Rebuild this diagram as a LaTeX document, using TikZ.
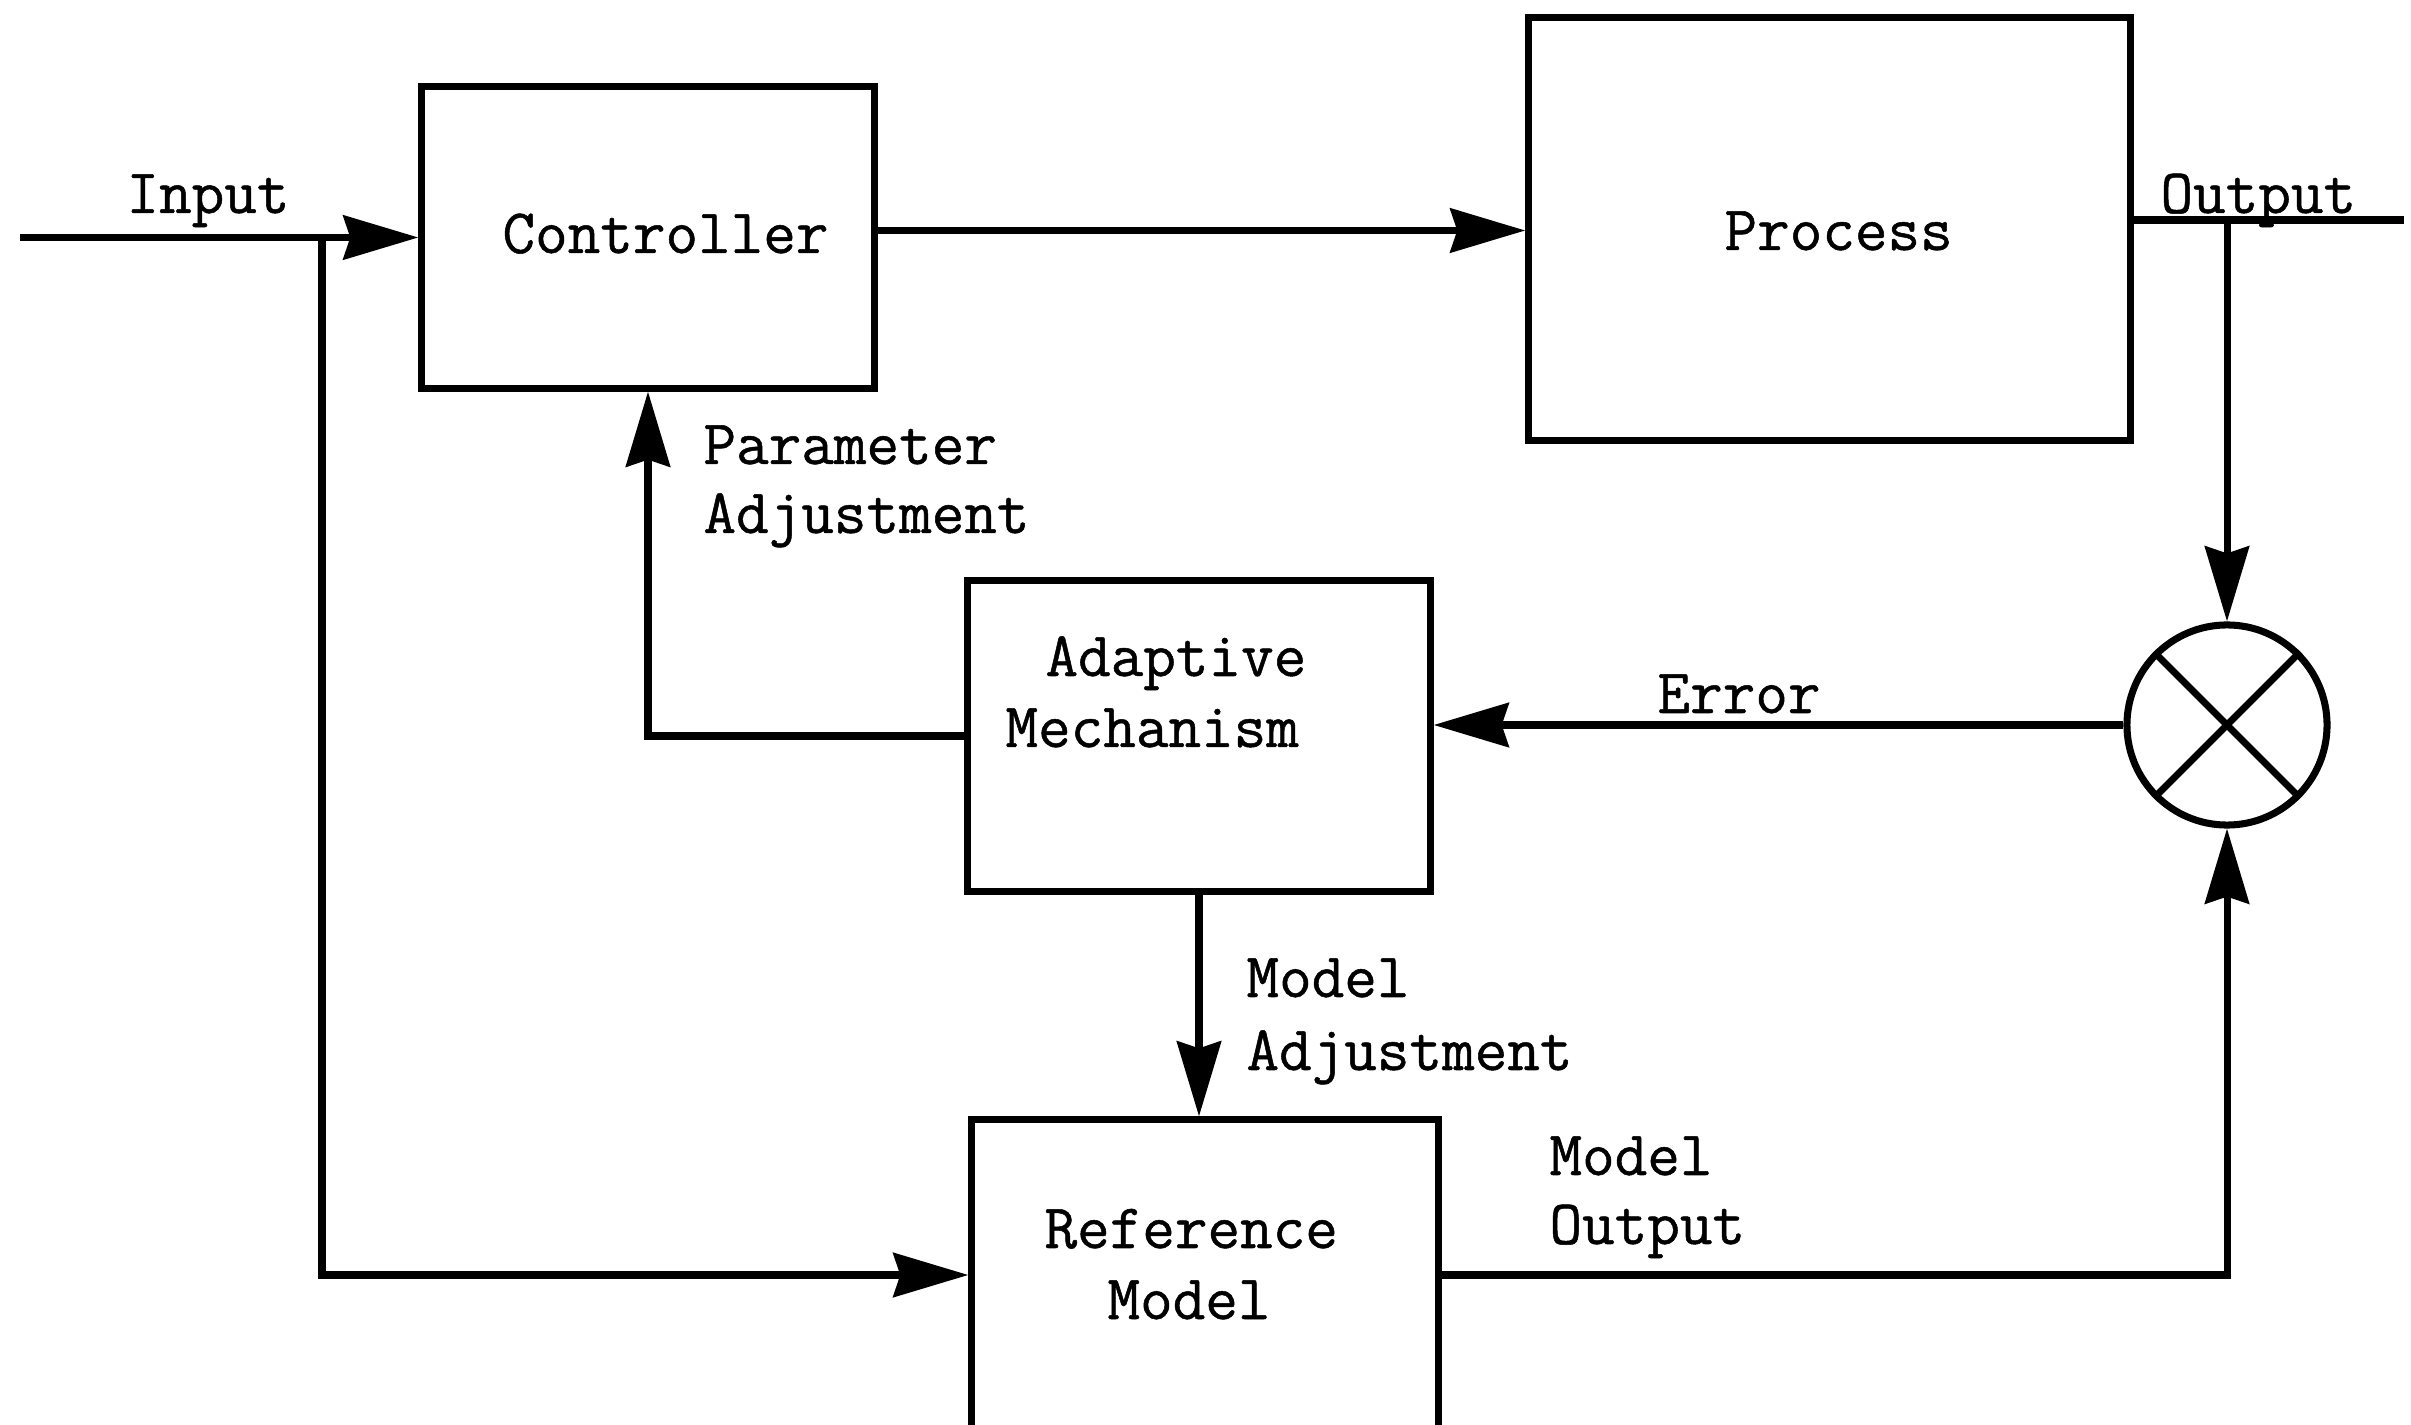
\documentclass[tikz,border=0pt]{standalone}
\usepackage{fontspec}
\newfontfamily\typefont[FakeBold=0.8]{Latin Modern Mono}
\usetikzlibrary{arrows.meta,shapes.geometric}

\begin{document}
\begin{tikzpicture}[x=0.01cm,y=-0.01cm,
  line width=2pt,
  block/.style={draw,rectangle,inner sep=0pt},
  junction/.style={draw,circle,inner sep=0pt,minimum size=2cm},
  arr/.style={-{Stealth[length=0.75cm,width=0.44cm,inset=0.07cm]}},
  lbl/.style={font=\typefont\fontsize{18}{22}\selectfont,inner sep=0pt,anchor=base west}]

\useasboundingbox (0,0) rectangle (2411,1425);
\clip (0,0) rectangle (2411,1425);

% blocks
\node[block,minimum width=4.52cm,minimum height=3.01cm] (ctrl) at (648,237.5) {};
\node[block,minimum width=6.01cm,minimum height=4.22cm] (proc) at (1829.5,229) {};
\node[block,minimum width=4.62cm,minimum height=3.10cm] (am) at (1199,736) {};
\node[block,minimum width=4.66cm,minimum height=3.10cm] (rm) at (1205,1275) {};
\node[junction] (sum) at (2227,725) {};
\draw (sum.north west) -- (sum.south east);
\draw (sum.north east) -- (sum.south west);

% block texts
\node[lbl] (tctrl) at (499,253) {Controller};
\node[lbl] (tproc) at (1721,250) {Process};
\node[lbl] (tam1) at (1042,676) {Adaptive};
\node[lbl] (tam2) at (1002,747) {Mechanism};
\node[lbl] (trm1) at (1041,1248) {Reference};
\node[lbl] (trm2) at (1104,1319) {Model};

% signal labels
\node[lbl] (tin) at (123,213) {Input};
\node[lbl] (tout) at (2157,213) {Output};
\node[lbl] (tpa1) at (700,464) {Parameter};
\node[lbl] (tpa2) at (700,533) {Adjustment};
\node[lbl] (terr) at (1654,713) {Error};
\node[lbl] (tma1) at (1243,997) {Model};
\node[lbl] (tma2) at (1243,1070) {Adjustment};
\node[lbl] (tmo1) at (1546,1175) {Model};
\node[lbl] (tmo2) at (1546,1244) {Output};

% connectors
\coordinate (inp) at (20,237.5);
\coordinate (br) at (322,237.5);
\coordinate (outend) at (2404,220);
\coordinate (cout) at ([yshift=0.07cm]ctrl.east);

\draw[arr] (inp) -- (ctrl.west);
\draw[arr] (br) |- (rm.west);
\draw[arr] (cout) -- (cout -| proc.west);
\draw (proc.east |- outend) -- (outend);
\draw[arr] (sum.north |- outend) -- (sum.north);
\draw[arr] (sum.west) -- (sum.west -| am.east);
\draw[arr] (am.west) -| (ctrl.south);
\draw[arr] (am.south) -- (am.south |- rm.north);
\draw[arr] (rm.east) -| (sum.south);

\end{tikzpicture}
\end{document}
